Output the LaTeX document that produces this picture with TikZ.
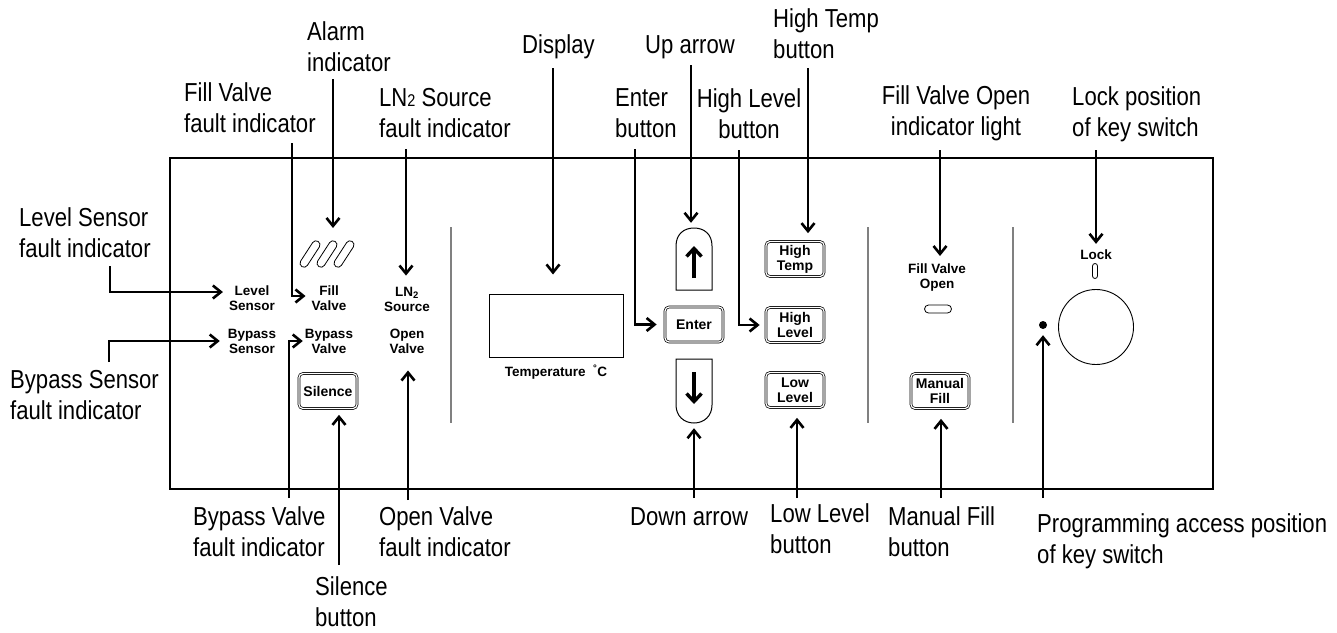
\documentclass[tikz,border=0pt]{standalone}
\usepackage{fontspec}
\setmainfont{Liberation Sans}
\newfontfamily\lblfont[FakeStretch=0.85]{Liberation Sans}
\usetikzlibrary{arrows.meta}

\begin{document}
\begin{tikzpicture}[x=1pt,y=-1pt,
	lbl/.style={font=\lblfont\fontsize{26}{31}\selectfont,align=left,inner sep=0pt,anchor=west},
	clbl/.style={lbl,align=center,anchor=center},
	txt/.style={font=\bfseries\fontsize{13.5}{15}\selectfont,align=center,inner sep=0pt},
	btn/.style={txt,draw,double,line width=0.7pt,double distance=1.2pt,rounded corners=4pt,
		minimum width=58pt,minimum height=35pt,font=\bfseries\fontsize{14}{15}\selectfont},
	lamp/.style={draw,line width=0.8pt,inner sep=0pt},
	callout/.style={line width=2.6pt,-{Straight Barb[length=8pt,width=13pt]}},
	keyarrow/.style={line width=3.4pt,-{Straight Barb[length=8pt,width=15pt]}},
	divider/.style={gray,line width=1.2pt}]
			%\draw[help lines] (0,0) grid (1337,632);
			\useasboundingbox (0,0) rectangle (1337,632);
			\draw[line width=1.2pt] (170,158) rectangle (1213,489);
			\foreach \x in {451,868,1013}
				\draw[divider] (\x,227) -- (\x,423);

			% indicators
			\node[txt] (lsens) at (252,298) {Level\\Sensor};
			\node[txt] (fvalve) at (329,298) {Fill\\Valve};
			\node[txt] (lnsrc) at (407,299) {LN\textsubscript{2}\\Source};
			\node[txt] (bsens) at (252,341) {Bypass\\Sensor};
			\node[txt] (bvalve) at (329,341) {Bypass\\Valve};
			\node[txt] (ovalve) at (407,341) {Open\\Valve};
			\foreach \x in {310,327,344}
				\node[lamp,rounded corners=4pt,minimum width=30pt,minimum height=8pt,rotate=57] (al\x) at (\x,254) {};
			\coordinate (alarm) at (333,241);

			% buttons and display
			\node[btn] (silence) at (328,391) {Silence};
			\node[draw,line width=1pt,minimum width=134pt,minimum height=63pt,inner sep=0pt] (disp) at (556,325.5) {};
			\node[txt] (temp) at (556,372) {Temperature\ \ \textsuperscript{°}C};
			\draw[line width=1pt] (676,290) -- (676,246) .. controls (676,234) and (684,228) .. (694,228)
				.. controls (704,228) and (712,234) .. (712,246) -- (712,290) -- cycle;
			\node[minimum width=36pt,minimum height=62pt,inner sep=0pt] (upkey) at (694,259) {};
			\draw[keyarrow] (694,278) -- (694,246);
			\draw[line width=1pt] (676,359) -- (676,405) .. controls (676,416) and (684,423) .. (694,423)
				.. controls (704,423) and (712,416) .. (712,405) -- (712,359) -- cycle;
			\node[minimum width=36pt,minimum height=64pt,inner sep=0pt] (dnkey) at (694,391) {};
			\draw[keyarrow] (694,372) -- (694,404);
			\node[btn] (enter) at (694,324.5) {Enter};
			\node[btn] (htemp) at (795,259) {High\\Temp};
			\node[btn] (hlevel) at (795,325) {High\\Level};
			\node[btn] (llevel) at (795,390) {Low\\Level};
			\node[txt] (fvopen) at (937,278) {Fill Valve\\Open};
			\node[lamp,rounded corners=4pt,minimum width=27pt,minimum height=8pt] (fvlamp) at (938,309) {};
			\node[btn] (mfill) at (940,391) {Manual\\Fill};
			\node[txt] (lock) at (1096,255) {Lock};
			\node[lamp,rounded corners=2.5pt,minimum width=5pt,minimum height=15pt] (slot) at (1095,271) {};
			\node[draw,circle,line width=0.9pt,minimum size=75pt,inner sep=0pt] (keysw) at (1096,327) {};
			\node[fill,circle,minimum size=8pt,inner sep=0pt] (pdot) at (1043,325) {};

			% labels
			\node[lbl] (lslbl) at (19,233) {Level Sensor\\fault indicator};
			\node[lbl] (bslbl) at (10,395) {Bypass Sensor\\fault indicator};
			\node[lbl] (fvlbl) at (184,108) {Fill Valve\\fault indicator};
			\node[lbl] (allbl) at (307,47) {Alarm\\indicator};
			\node[lbl] (lnlbl) at (379,113) {LN{\fontsize{17}{17}\selectfont 2} Source\\fault indicator};
			\node[lbl] (dplbl) at (522,47) {Display};
			\node[lbl] (enlbl) at (615,113) {Enter\\button};
			\node[lbl] (uplbl) at (645,47) {Up arrow};
			\node[lbl] (htlbl) at (773,34) {High Temp\\button};
			\node[clbl] (hllbl) at (749,114) {High Level\\button};
			\node[clbl] (folbl) at (956,113) {Fill Valve Open\\indicator light};
			\node[lbl] (lklbl) at (1072,114) {Lock position\\of key switch};
			\node[lbl] (bvlbl) at (193,532) {Bypass Valve\\fault indicator};
			\node[lbl] (silbl) at (315,602) {Silence\\button};
			\node[lbl] (ovlbl) at (379,532) {Open Valve\\fault indicator};
			\node[lbl] (dnlbl) at (630,517) {Down arrow};
			\node[lbl] (lllbl) at (770,529) {Low Level\\button};
			\node[lbl] (mflbl) at (888,532) {Manual Fill\\button};
			\node[lbl] (palbl) at (1037,541) {Programming access position\\of key switch};

			% callouts
			\coordinate (ls-s) at (110,266);
			\coordinate (bs-s) at (109,362);
			\coordinate (fv-s) at (292,143);
			\coordinate (al-s) at (333,79);
			\coordinate (ln-s) at (406,149);
			\coordinate (dp-s) at (553,68);
			\coordinate (en-s) at (635,149);
			\coordinate (up-s) at (691,65);
			\coordinate (hl-s) at (739,150);
			\coordinate (ht-s) at (808,68);
			\coordinate (fo-s) at (940,150);
			\coordinate (lk-s) at (1096,150);
			\coordinate (bv-s) at (289,498);
			\coordinate (si-s) at (339,565);
			\coordinate (ov-s) at (408,500);
			\coordinate (dn-s) at (694,498);
			\coordinate (ll-s) at (797,498);
			\coordinate (mf-s) at (941,498);
			\coordinate (pa-s) at (1043,498);
			\draw[callout] (ls-s) |- ([xshift=-6pt,yshift=6pt]lsens.west);
			\draw[callout] (bs-s) |- ([xshift=-8pt]bsens.west);
			\draw[callout] (fv-s) |- ([xshift=-6pt,yshift=2pt]fvalve.west);
			\draw[callout,shorten >=13pt] (al-s) -- (al-s |- alarm);
			\draw[callout,shorten >=11pt] (ln-s) -- (ln-s |- lnsrc.north);
			\draw[callout,shorten >=19pt] (dp-s) -- (dp-s |- disp.north);
			\draw[callout] (en-s) |- ([xshift=-8pt]enter.west);
			\draw[callout,shorten >=5pt] (up-s) -- (up-s |- upkey.north);
			\draw[callout] (hl-s) |- ([xshift=-6pt]hlevel.west);
			\draw[callout,shorten >=8pt] (ht-s) -- (ht-s |- htemp.north);
			\draw[callout,shorten >=8pt] (fo-s) -- (fo-s |- fvopen.north);
			\draw[callout,shorten >=6pt] (lk-s) -- (lk-s |- lock.north);
			\draw[callout] (bv-s) |- ([xshift=-2pt]bvalve.west);
			\draw[callout,shorten >=6pt] (si-s) -- (si-s |- silence.south);
			\draw[callout,shorten >=17pt] (ov-s) -- (ov-s |- ovalve.south);
			\draw[callout,shorten >=5pt] (dn-s) -- (dn-s |- dnkey.south);
			\draw[callout,shorten >=10pt] (ll-s) -- (ll-s |- llevel.south);
			\draw[callout,shorten >=10pt] (mf-s) -- (mf-s |- mfill.south);
			\draw[callout,shorten >=6pt] (pa-s) -- (pa-s |- pdot.south);
\end{tikzpicture}
\end{document}
